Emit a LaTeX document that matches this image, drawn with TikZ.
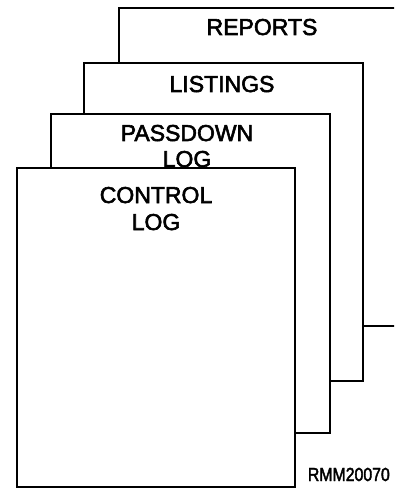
\documentclass[tikz,border=0pt]{standalone}
\usepackage{fontspec}
\setmainfont{Liberation Sans}
\newfontfamily\heavyfont{Liberation Sans}[FakeBold=2.5]
\begin{document}
\begin{tikzpicture}[x=1bp,y=-1bp,
  sheet/.style={draw=black,fill=white,line width=1.8bp},
  title/.style={anchor=base,inner sep=0pt,font=\heavyfont\fontsize{23bp}{27bp}\selectfont},
  tag/.style={anchor=base east,inner sep=0pt,font=\heavyfont\fontsize{18bp}{21bp}\selectfont}]
\useasboundingbox (0,0) rectangle (394,488);
\clip (0,0) rectangle (394,488);
% REPORTS sheet
\path[sheet] (119,8) rectangle (420,326);
\node[title] (reports) at (262,35) {REPORTS};
% LISTINGS sheet
\path[sheet] (84,63) rectangle (363,381);
\node[title] (listings) at (222,92) {LISTINGS};
% PASSDOWN LOG sheet
\path[sheet] (51,114) rectangle (330,433);
\node[title] (passdown) at (187,141) {PASSDOWN};
\node[title] (passlog) at (187,167) {LOG};
% CONTROL LOG sheet
\path[sheet] (17,168) rectangle (295,487);
\node[title] (control) at (156,203) {CONTROL};
\node[title] (controllog) at (156,230) {LOG};
% figure tag
\node[tag] (code) at (390,481) {\scalebox{0.88}[1.05]{RMM20070}};
\end{tikzpicture}
\end{document}
